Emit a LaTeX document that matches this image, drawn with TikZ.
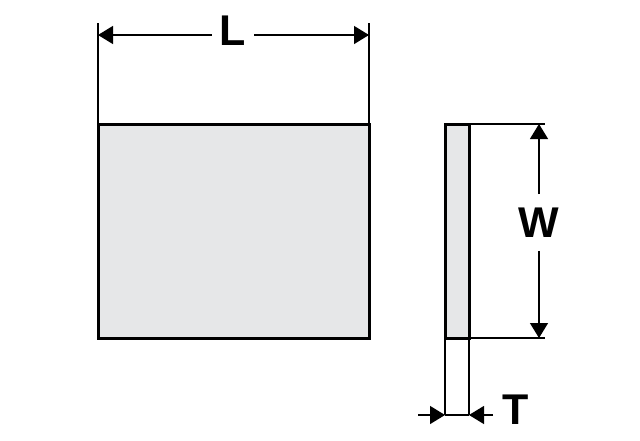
\documentclass[tikz,border=0pt]{standalone}
\usepackage{fontspec}
\setmainfont{Liberation Sans}
\usetikzlibrary{arrows.meta}
\usetikzlibrary{calc}
\definecolor{platefill}{HTML}{E6E7E8}

\begin{document}
\begin{tikzpicture}[x=1pt, y=-1pt,
		plate/.style = {draw, line width=3pt, fill=platefill, inner sep=0pt, outer sep=0pt, anchor=north west},
		extline/.style = {line width=1.3pt},
		dimline/.style = {line width=1.3pt, -{Triangle[length=15pt,width=18pt]}},
		dimlabel/.style = {font=\fontsize{43}{43}\selectfont\bfseries, inner sep=0pt}]
		\useasboundingbox (0,0) rectangle (640,440);

		\node(face)	[plate, minimum width=271pt, minimum height=214pt]	at (98,124)	{};
		\node(edge)	[plate, minimum width=24pt, minimum height=214pt]	at (445,124)	{};

		% extension lines
		\coordinate(Lleft)	at (face.north west |- 0,35);
		\coordinate(Lright)	at (face.north east |- 0,35);
		\coordinate(Wtop)	at (539,0 |- edge.north east);
		\coordinate(Wbot)	at (539,0 |- edge.south east);
		\coordinate(Tleft)	at (edge.south west |- 0,415);
		\coordinate(Tright)	at (edge.south east |- 0,415);
		\draw[extline] (face.north west) -- ($(Lleft)+(0,-12)$);
		\draw[extline] (face.north east) -- ($(Lright)+(0,-12)$);
		\draw[extline] (edge.north east) -- ($(Wtop)+(6,0)$);
		\draw[extline] (edge.south east) -- ($(Wbot)+(6,0)$);
		\draw[extline] (edge.south west) -- (Tleft);
		\draw[extline] (edge.south east) -- (Tright);
		\draw[extline] (Tleft) -- (Tright);

		% dimensions
		\node(L)	[dimlabel]	at (233,31)	{L};
		\node(W)	[dimlabel]	at (539,223)	{W};
		\node(T)	[dimlabel]	at (516,410)	{T};
		\draw[dimline] ($(L.west)+(-8,4)$) -- (Lleft);
		\draw[dimline] ($(L.east)+(8,4)$) -- (Lright);
		\draw[dimline] ($(W.north)+(0,-14)$) -- (Wtop);
		\draw[dimline] ($(W.south)+(0,13)$) -- (Wbot);
		\draw[dimline] ($(Tleft)+(-27,0)$) -- (Tleft);
		\draw[dimline] ($(Tright)+(24,0)$) -- (Tright);
	\end{tikzpicture}
\end{document}
